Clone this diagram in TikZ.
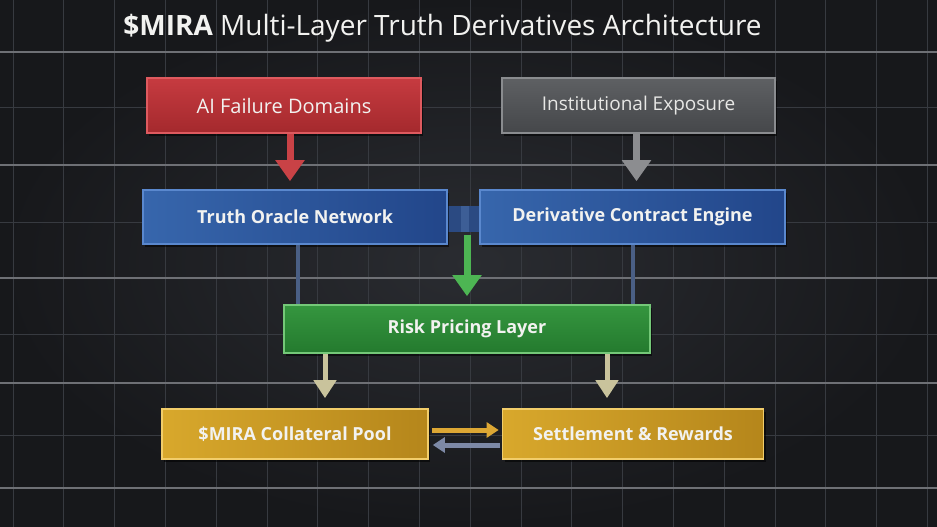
\documentclass[tikz,border=0pt]{standalone}
\usepackage{fontspec}
\setmainfont{Open Sans}
\usetikzlibrary{arrows.meta,shadows,calc}
\definecolor{bgin}{HTML}{2A2C31}
\definecolor{bgout}{HTML}{17181B}
\definecolor{gridminor}{HTML}{373A40}
\definecolor{gridmajor}{HTML}{6E7075}
\definecolor{redA}{HTML}{C63B40}
\definecolor{redB}{HTML}{A4292D}
\definecolor{redE}{HTML}{DE5A5F}
\definecolor{grayA}{HTML}{5E6063}
\definecolor{grayB}{HTML}{45474A}
\definecolor{grayE}{HTML}{8A8C8F}
\definecolor{blueA}{HTML}{3766AC}
\definecolor{blueB}{HTML}{22468A}
\definecolor{blueE}{HTML}{5A88CE}
\definecolor{greenA}{HTML}{35963F}
\definecolor{greenB}{HTML}{247A2E}
\definecolor{greenE}{HTML}{74C878}
\definecolor{goldA}{HTML}{D8A82C}
\definecolor{goldB}{HTML}{B5861B}
\definecolor{goldE}{HTML}{F2CD6A}
\definecolor{txt}{HTML}{F2F2F0}
\definecolor{redarrow}{HTML}{C94246}
\definecolor{grayarrow}{HTML}{8C8D90}
\definecolor{greenarrow}{HTML}{4DB553}
\definecolor{tanarrow}{HTML}{C9C39C}
\definecolor{goldarrow}{HTML}{DCA734}
\definecolor{slatearrow}{HTML}{7D89A6}
\definecolor{linkblue}{HTML}{2B4A82}
\definecolor{fadeblue}{HTML}{4A5F85}
\tikzset{
  box/.style={rectangle, line width=1.6pt, text=txt, inner sep=0pt,
    font=\fontsize{18}{22}\selectfont\bfseries,
    drop shadow={shadow xshift=2pt, shadow yshift=-3pt, opacity=0.55, fill=black}},
  redbox/.style={box, draw=redE, top color=redA, bottom color=redB, font=\fontsize{20}{22}\selectfont},
  graybox/.style={box, draw=grayE, top color=grayA, bottom color=grayB, text=txt!90!gray, font=\fontsize{19}{22}\selectfont},
  bluebox/.style={box, draw=blueE, left color=blueA, right color=blueB},
  greenbox/.style={box, draw=greenE, top color=greenA, bottom color=greenB},
  goldbox/.style={box, draw=goldE, left color=goldA, right color=goldB},
  bigarrow/.style={line width=7pt, -{Triangle[width=28pt,length=21pt]}},
  midarrow/.style={line width=5pt, -{Triangle[width=22pt,length=18pt]}},
  sidearrow/.style={line width=5pt, -{Triangle[width=15pt,length=12pt]}},
  minorline/.style={draw=gridminor, line width=1pt},
  majorline/.style={draw=gridmajor, line width=1.8pt},
}
\begin{document}
\begin{tikzpicture}[x=1pt,y=-1pt]
\useasboundingbox (0,0) rectangle (937,527);
\shade[inner color=bgin, outer color=bgout] (0,0) rectangle (937,527);
% grid
\foreach \k in {0,...,18} \draw[minorline] ({13+50.8*\k},0) -- ({13+50.8*\k},527);
\foreach \yy in {107,222,334,435} \draw[minorline] (0,\yy) -- (937,\yy);
\foreach \yy in {52,165,278,383,488} \draw[majorline] (0,\yy) -- (937,\yy);

% title
\node[text=txt, font=\fontsize{28}{32}\selectfont, anchor=base] (title) at (442.5,36)
  {\textbf{\$MIRA} Multi-Layer Truth Derivatives Architecture};

% link block between blue boxes
\node[rectangle, fill=linkblue, minimum width=34pt, minimum height=26pt, inner sep=0pt] (link) at (465,219) {};
\fill[blueA!80!white, opacity=0.35] (link.north) ++(-4,0) rectangle ([xshift=4pt]link.south);

% boxes
\node[redbox, minimum width=274pt, minimum height=55pt] (red) at (284,105.5) {AI Failure Domains};
\node[graybox, minimum width=273pt, minimum height=55pt] (gray) at (638.5,105.5) {Institutional Exposure};
\node[bluebox, minimum width=304pt, minimum height=54pt] (blue1) at (295,217) {Truth Oracle Network};
\node[bluebox, minimum width=305pt, minimum height=54pt] (blue2) at (632.5,217) {Derivative Contract Engine};
\node[greenbox, minimum width=366pt, minimum height=48pt] (green) at (467,329) {Risk Pricing Layer};
\node[goldbox, minimum width=266pt, minimum height=50pt] (gold1) at (295,434) {\$MIRA Collateral Pool};
\node[goldbox, minimum width=261pt, minimum height=50pt] (gold2) at (633,434) {Settlement \& Rewards};

% faint connectors blue -> green
\draw[fadeblue, line width=4pt] ([xshift=3pt]blue1.south) -- ([xshift=3pt]blue1.south |- green.north);
\draw[fadeblue, line width=4pt] ([xshift=0.5pt]blue2.south) -- ([xshift=0.5pt]blue2.south |- green.north);

% arrows
\draw[bigarrow, redarrow] ([xshift=6pt]red.south) -- ([xshift=-5pt, yshift=8pt]blue1.north);
\draw[bigarrow, grayarrow] ([xshift=-2pt]gray.south) -- ([xshift=4pt, yshift=8pt]blue2.north);
\draw[bigarrow, greenarrow] ([xshift=2pt, yshift=-3pt]link.south) -- ([yshift=8pt]green.north);
\draw[midarrow, tanarrow] ([xshift=-142pt]green.south) -- ([xshift=30pt, yshift=10pt]gold1.north);
\draw[midarrow, tanarrow] ([xshift=140pt]green.south) -- ([xshift=-26pt, yshift=10pt]gold2.north);
\draw[sidearrow, goldarrow] ([xshift=3pt, yshift=4pt]gold1.east) -- ([xshift=-3pt, yshift=4pt]gold2.west);
\draw[sidearrow, slatearrow] ([xshift=-2pt, yshift=-11pt]gold2.west) -- ([xshift=4pt, yshift=-11pt]gold1.east);
\end{tikzpicture}
\end{document}
